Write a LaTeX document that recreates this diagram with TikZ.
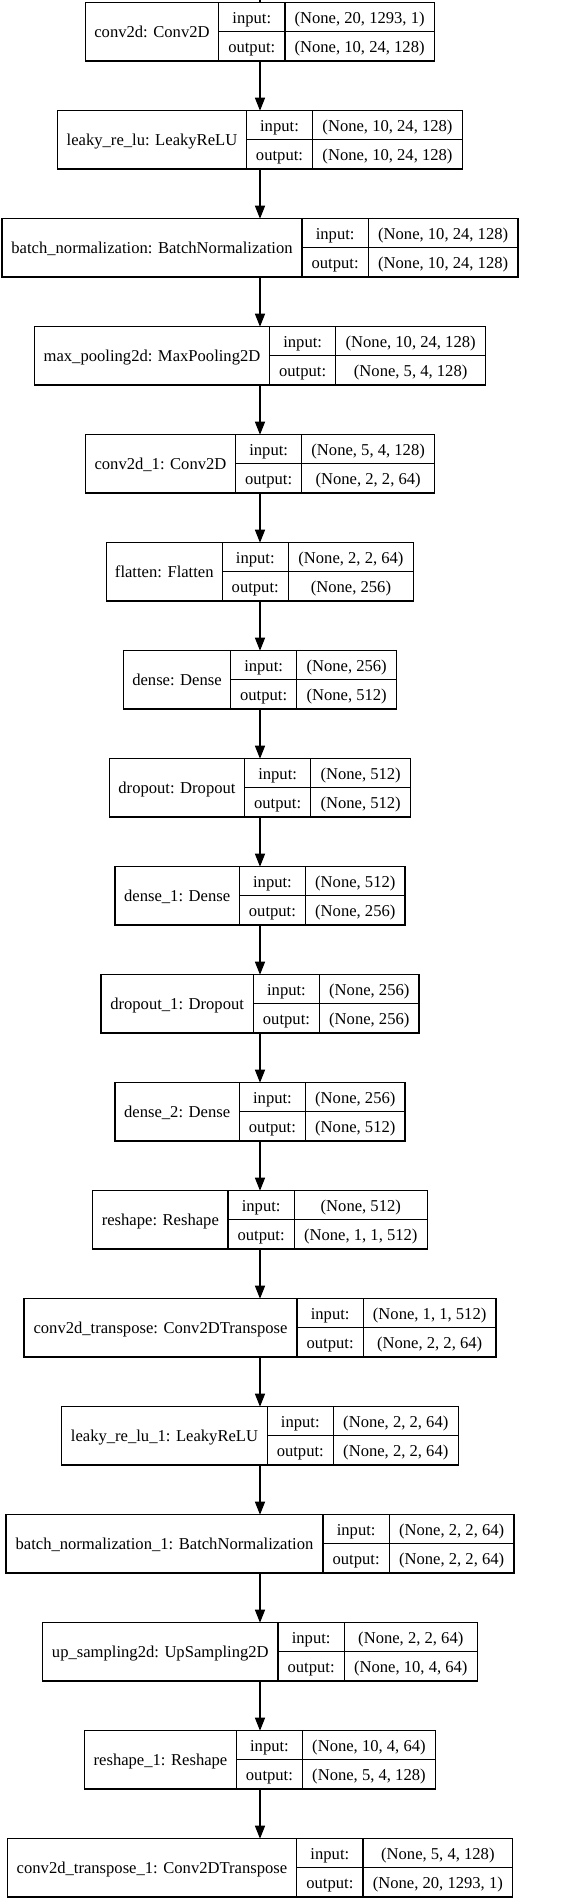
\documentclass[tikz,border=0pt]{standalone}
\usepackage{fontspec}
\setmainfont{Liberation Serif}
\usepackage{tikz}
\usetikzlibrary{arrows.meta}

\begin{document}
\begin{tikzpicture}[x=1pt, y=1pt,
        every node/.style={font=\fontsize{16.6}{18}\selectfont, inner sep=0pt, outer sep=0pt, text height=11.5pt, text depth=0pt},
        layer/.style={rectangle, minimum height=58.3pt},
        namecell/.style={rectangle, draw=black, line width=1.2pt, minimum height=58.3pt, anchor=west},
        port/.style={rectangle, draw=black, line width=1.2pt, minimum height=29.15pt, minimum width=66.3pt},
        valcell/.style={rectangle, draw=black, line width=1.2pt, minimum height=29.15pt, anchor=west},
        flow/.style={line width=1.3pt, -{Triangle[length=13pt, width=10pt]}}]

        \useasboundingbox (0,0) rectangle (585,-1903);

        %% conv2d
        \node (conv2d) [layer, minimum width=349.3pt] at (260,-31.85) {};
        \node (conv2d-name) [namecell, minimum width=133.3pt] at (conv2d.west) {conv2d: Conv2D};
        \node (conv2d-in) [port, anchor=south west] at (conv2d-name.east) {input:};
        \node (conv2d-out) [port, anchor=north west] at (conv2d-name.east) {output:};
        \node (conv2d-inval) [valcell, minimum width=149.3pt] at (conv2d-in.east) {(None, 20, 1293, 1)};
        \node (conv2d-outval) [valcell, minimum width=149.3pt] at (conv2d-out.east) {(None, 10, 24, 128)};

        %% leaky_re_lu
        \node (lrelu) [layer, minimum width=404.7pt] at (260,-139.85) {};
        \node (lrelu-name) [namecell, minimum width=188.7pt] at (lrelu.west) {leaky\_re\_lu: LeakyReLU};
        \node (lrelu-in) [port, anchor=south west] at (lrelu-name.east) {input:};
        \node (lrelu-out) [port, anchor=north west] at (lrelu-name.east) {output:};
        \node (lrelu-inval) [valcell, minimum width=149.7pt] at (lrelu-in.east) {(None, 10, 24, 128)};
        \node (lrelu-outval) [valcell, minimum width=149.7pt] at (lrelu-out.east) {(None, 10, 24, 128)};

        %% batch_normalization
        \node (bnorm) [layer, minimum width=516pt] at (260,-247.85) {};
        \node (bnorm-name) [namecell, minimum width=300pt] at (bnorm.west) {batch\_normalization: BatchNormalization};
        \node (bnorm-in) [port, anchor=south west] at (bnorm-name.east) {input:};
        \node (bnorm-out) [port, anchor=north west] at (bnorm-name.east) {output:};
        \node (bnorm-inval) [valcell, minimum width=149.7pt] at (bnorm-in.east) {(None, 10, 24, 128)};
        \node (bnorm-outval) [valcell, minimum width=149.7pt] at (bnorm-out.east) {(None, 10, 24, 128)};

        %% max_pooling2d
        \node (maxpool) [layer, minimum width=451pt] at (260,-355.85) {};
        \node (maxpool-name) [namecell, minimum width=235pt] at (maxpool.west) {max\_pooling2d: MaxPooling2D};
        \node (maxpool-in) [port, anchor=south west] at (maxpool-name.east) {input:};
        \node (maxpool-out) [port, anchor=north west] at (maxpool-name.east) {output:};
        \node (maxpool-inval) [valcell, minimum width=149.7pt] at (maxpool-in.east) {(None, 10, 24, 128)};
        \node (maxpool-outval) [valcell, minimum width=149.7pt] at (maxpool-out.east) {(None, 5, 4, 128)};

        %% conv2d_1
        \node (conv2d1) [layer, minimum width=349pt] at (260,-463.85) {};
        \node (conv2d1-name) [namecell, minimum width=150pt] at (conv2d1.west) {conv2d\_1: Conv2D};
        \node (conv2d1-in) [port, anchor=south west] at (conv2d1-name.east) {input:};
        \node (conv2d1-out) [port, anchor=north west] at (conv2d1-name.east) {output:};
        \node (conv2d1-inval) [valcell, minimum width=132.7pt] at (conv2d1-in.east) {(None, 5, 4, 128)};
        \node (conv2d1-outval) [valcell, minimum width=132.7pt] at (conv2d1-out.east) {(None, 2, 2, 64)};

        %% flatten
        \node (flatten) [layer, minimum width=307pt] at (260,-571.85) {};
        \node (flatten-name) [namecell, minimum width=115.6pt] at (flatten.west) {flatten: Flatten};
        \node (flatten-in) [port, anchor=south west] at (flatten-name.east) {input:};
        \node (flatten-out) [port, anchor=north west] at (flatten-name.east) {output:};
        \node (flatten-inval) [valcell, minimum width=125.1pt] at (flatten-in.east) {(None, 2, 2, 64)};
        \node (flatten-outval) [valcell, minimum width=125.1pt] at (flatten-out.east) {(None, 256)};

        %% dense
        \node (dense) [layer, minimum width=273pt] at (260,-679.85) {};
        \node (dense-name) [namecell, minimum width=107pt] at (dense.west) {dense: Dense};
        \node (dense-in) [port, anchor=south west] at (dense-name.east) {input:};
        \node (dense-out) [port, anchor=north west] at (dense-name.east) {output:};
        \node (dense-inval) [valcell, minimum width=99.7pt] at (dense-in.east) {(None, 256)};
        \node (dense-outval) [valcell, minimum width=99.7pt] at (dense-out.east) {(None, 512)};

        %% dropout
        \node (dropout) [layer, minimum width=301pt] at (260,-787.85) {};
        \node (dropout-name) [namecell, minimum width=135pt] at (dropout.west) {dropout: Dropout};
        \node (dropout-in) [port, anchor=south west] at (dropout-name.east) {input:};
        \node (dropout-out) [port, anchor=north west] at (dropout-name.east) {output:};
        \node (dropout-inval) [valcell, minimum width=99.7pt] at (dropout-in.east) {(None, 512)};
        \node (dropout-outval) [valcell, minimum width=99.7pt] at (dropout-out.east) {(None, 512)};

        %% dense_1
        \node (dense1) [layer, minimum width=290pt] at (260,-895.85) {};
        \node (dense1-name) [namecell, minimum width=124.3pt] at (dense1.west) {dense\_1: Dense};
        \node (dense1-in) [port, anchor=south west] at (dense1-name.east) {input:};
        \node (dense1-out) [port, anchor=north west] at (dense1-name.east) {output:};
        \node (dense1-inval) [valcell, minimum width=99.4pt] at (dense1-in.east) {(None, 512)};
        \node (dense1-outval) [valcell, minimum width=99.4pt] at (dense1-out.east) {(None, 256)};

        %% dropout_1
        \node (dropout1) [layer, minimum width=318pt] at (260,-1003.85) {};
        \node (dropout1-name) [namecell, minimum width=152.3pt] at (dropout1.west) {dropout\_1: Dropout};
        \node (dropout1-in) [port, anchor=south west] at (dropout1-name.east) {input:};
        \node (dropout1-out) [port, anchor=north west] at (dropout1-name.east) {output:};
        \node (dropout1-inval) [valcell, minimum width=99.4pt] at (dropout1-in.east) {(None, 256)};
        \node (dropout1-outval) [valcell, minimum width=99.4pt] at (dropout1-out.east) {(None, 256)};

        %% dense_2
        \node (dense2) [layer, minimum width=290pt] at (260,-1111.85) {};
        \node (dense2-name) [namecell, minimum width=124.3pt] at (dense2.west) {dense\_2: Dense};
        \node (dense2-in) [port, anchor=south west] at (dense2-name.east) {input:};
        \node (dense2-out) [port, anchor=north west] at (dense2-name.east) {output:};
        \node (dense2-inval) [valcell, minimum width=99.4pt] at (dense2-in.east) {(None, 256)};
        \node (dense2-outval) [valcell, minimum width=99.4pt] at (dense2-out.east) {(None, 512)};

        %% reshape
        \node (reshape) [layer, minimum width=334.6pt] at (260,-1219.85) {};
        \node (reshape-name) [namecell, minimum width=135.3pt] at (reshape.west) {reshape: Reshape};
        \node (reshape-in) [port, anchor=south west] at (reshape-name.east) {input:};
        \node (reshape-out) [port, anchor=north west] at (reshape-name.east) {output:};
        \node (reshape-inval) [valcell, minimum width=133pt] at (reshape-in.east) {(None, 512)};
        \node (reshape-outval) [valcell, minimum width=133pt] at (reshape-out.east) {(None, 1, 1, 512)};

        %% conv2d_transpose
        \node (convt) [layer, minimum width=472pt] at (260,-1327.85) {};
        \node (convt-name) [namecell, minimum width=273pt] at (convt.west) {conv2d\_transpose: Conv2DTranspose};
        \node (convt-in) [port, anchor=south west] at (convt-name.east) {input:};
        \node (convt-out) [port, anchor=north west] at (convt-name.east) {output:};
        \node (convt-inval) [valcell, minimum width=132.7pt] at (convt-in.east) {(None, 1, 1, 512)};
        \node (convt-outval) [valcell, minimum width=132.7pt] at (convt-out.east) {(None, 2, 2, 64)};

        %% leaky_re_lu_1
        \node (lrelu1) [layer, minimum width=396.3pt] at (260,-1435.85) {};
        \node (lrelu1-name) [namecell, minimum width=205.3pt] at (lrelu1.west) {leaky\_re\_lu\_1: LeakyReLU};
        \node (lrelu1-in) [port, anchor=south west] at (lrelu1-name.east) {input:};
        \node (lrelu1-out) [port, anchor=north west] at (lrelu1-name.east) {output:};
        \node (lrelu1-inval) [valcell, minimum width=124.7pt] at (lrelu1-in.east) {(None, 2, 2, 64)};
        \node (lrelu1-outval) [valcell, minimum width=124.7pt] at (lrelu1-out.east) {(None, 2, 2, 64)};

        %% batch_normalization_1
        \node (bnorm1) [layer, minimum width=508pt] at (260,-1543.85) {};
        \node (bnorm1-name) [namecell, minimum width=317pt] at (bnorm1.west) {batch\_normalization\_1: BatchNormalization};
        \node (bnorm1-in) [port, anchor=south west] at (bnorm1-name.east) {input:};
        \node (bnorm1-out) [port, anchor=north west] at (bnorm1-name.east) {output:};
        \node (bnorm1-inval) [valcell, minimum width=124.7pt] at (bnorm1-in.east) {(None, 2, 2, 64)};
        \node (bnorm1-outval) [valcell, minimum width=124.7pt] at (bnorm1-out.east) {(None, 2, 2, 64)};

        %% up_sampling2d
        \node (upsample) [layer, minimum width=434.6pt] at (260,-1651.85) {};
        \node (upsample-name) [namecell, minimum width=235.3pt] at (upsample.west) {up\_sampling2d: UpSampling2D};
        \node (upsample-in) [port, anchor=south west] at (upsample-name.east) {input:};
        \node (upsample-out) [port, anchor=north west] at (upsample-name.east) {output:};
        \node (upsample-inval) [valcell, minimum width=133pt] at (upsample-in.east) {(None, 2, 2, 64)};
        \node (upsample-outval) [valcell, minimum width=133pt] at (upsample-out.east) {(None, 10, 4, 64)};

        %% reshape_1
        \node (reshape1) [layer, minimum width=350.6pt] at (260,-1759.85) {};
        \node (reshape1-name) [namecell, minimum width=151.6pt] at (reshape1.west) {reshape\_1: Reshape};
        \node (reshape1-in) [port, anchor=south west] at (reshape1-name.east) {input:};
        \node (reshape1-out) [port, anchor=north west] at (reshape1-name.east) {output:};
        \node (reshape1-inval) [valcell, minimum width=132.7pt] at (reshape1-in.east) {(None, 10, 4, 64)};
        \node (reshape1-outval) [valcell, minimum width=132.7pt] at (reshape1-out.east) {(None, 5, 4, 128)};

        %% conv2d_transpose_1
        \node (convt1) [layer, minimum width=505.4pt] at (260,-1867.85) {};
        \node (convt1-name) [namecell, minimum width=289.4pt] at (convt1.west) {conv2d\_transpose\_1: Conv2DTranspose};
        \node (convt1-in) [port, anchor=south west] at (convt1-name.east) {input:};
        \node (convt1-out) [port, anchor=north west] at (convt1-name.east) {output:};
        \node (convt1-inval) [valcell, minimum width=149.7pt] at (convt1-in.east) {(None, 5, 4, 128)};
        \node (convt1-outval) [valcell, minimum width=149.7pt] at (convt1-out.east) {(None, 20, 1293, 1)};

        %% Arrows
        \coordinate (input) at (260,0);
        \draw [line width=1.3pt] (input) -- (conv2d);
        \draw [flow] (conv2d) -- (lrelu);
        \draw [flow] (lrelu) -- (bnorm);
        \draw [flow] (bnorm) -- (maxpool);
        \draw [flow] (maxpool) -- (conv2d1);
        \draw [flow] (conv2d1) -- (flatten);
        \draw [flow] (flatten) -- (dense);
        \draw [flow] (dense) -- (dropout);
        \draw [flow] (dropout) -- (dense1);
        \draw [flow] (dense1) -- (dropout1);
        \draw [flow] (dropout1) -- (dense2);
        \draw [flow] (dense2) -- (reshape);
        \draw [flow] (reshape) -- (convt);
        \draw [flow] (convt) -- (lrelu1);
        \draw [flow] (lrelu1) -- (bnorm1);
        \draw [flow] (bnorm1) -- (upsample);
        \draw [flow] (upsample) -- (reshape1);
        \draw [flow] (reshape1) -- (convt1);

    \end{tikzpicture}
\end{document}
